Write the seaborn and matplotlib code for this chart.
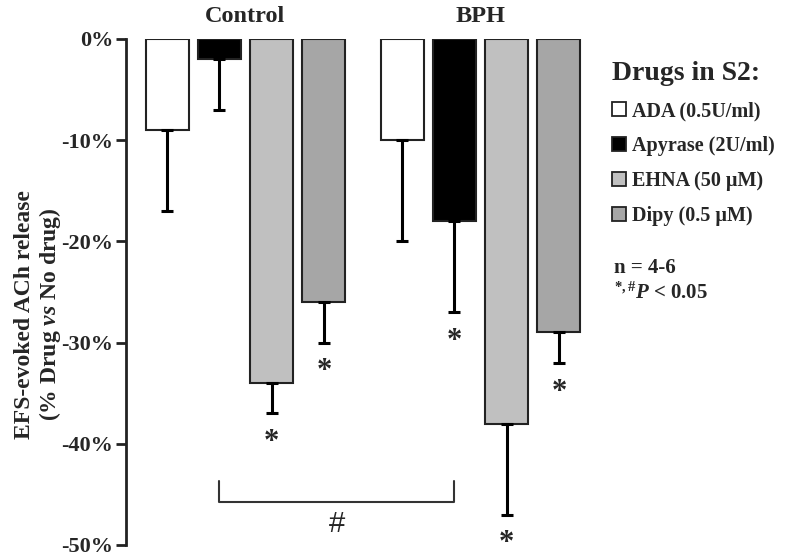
import numpy as np
import pandas as pd
import matplotlib
matplotlib.use("Agg")
import matplotlib.pyplot as plt
import seaborn as sns

# values
groups = ["Control", "BPH"]
drugs = ["ADA (0.5U/ml)", "Apyrase (2U/ml)", "EHNA (50 µM)", "Dipy (0.5 µM)"]
control_mean = [-9, -2, -34, -26]
control_err = [8, 5, 3, 4]
bph_mean = [-10, -18, -38, -29]
bph_err = [10, 9, 9, 3]
control_star = [False, False, True, True]
bph_star = [False, True, True, True]
bar_colors = ["#ffffff", "#000000", "#c0c0c0", "#a6a6a6"]
yticks = [-50, -40, -30, -20, -10, 0]
ytick_labels = ["-50%", "-40%", "-30%", "-20%", "-10%", "0%"]

sns.set_style("ticks")
plt.rcParams["font.family"] = ["Liberation Serif", "DejaVu Serif"]
plt.rcParams["font.weight"] = "bold"
plt.rcParams["mathtext.fontset"] = "custom"
plt.rcParams["mathtext.rm"] = "Liberation Serif:bold"
plt.rcParams["mathtext.bf"] = "Liberation Serif:bold"
plt.rcParams["mathtext.it"] = "Liberation Serif:italic:bold"
plt.rcParams["axes.unicode_minus"] = False

df = pd.DataFrame({
    "group": np.repeat(groups, len(drugs)),
    "drug": drugs * len(groups),
    "value": control_mean + bph_mean,
    "err": control_err + bph_err,
    "star": control_star + bph_star,
})

fig = plt.figure(figsize=(7.88, 5.56), dpi=100)
ax = fig.add_axes([126 / 788, 11 / 556, 472 / 788, 506 / 556])

sns.barplot(data=df, x="group", y="value", hue="drug", hue_order=drugs,
            palette=bar_colors, width=0.89, gap=0.18, edgecolor="#222222",
            linewidth=1.5, errorbar=None, ax=ax)

# one-sided error bars and significance stars
for drug, cont in zip(drugs, ax.containers):
    sub = df[df["drug"] == drug].set_index("group").loc[groups]
    for bar, (_, row) in zip(cont.patches, sub.iterrows()):
        xc = bar.get_x() + bar.get_width() / 2
        ax.errorbar(xc, row["value"], yerr=[[row["err"]], [0]], fmt="none",
                    ecolor="black", elinewidth=2.2, capsize=4, capthick=2.2)
        if row["star"]:
            ax.annotate("*", (xc, row["value"] - row["err"]), xytext=(0, -21),
                        textcoords="offset points", ha="center", va="center",
                        fontsize=22, fontweight="bold")

# bracket between Control and BPH apyrase bars
apy = ax.containers[1].patches
x0 = apy[0].get_x() + apy[0].get_width() / 2
x1 = apy[1].get_x() + apy[1].get_width() / 2
ax.plot([x0, x0, x1, x1], [-43.7, -45.8, -45.8, -43.7], color="#333333",
        lw=1.5, solid_joinstyle="round", clip_on=False)
ax.text((x0 + x1) / 2, -47.9, "#", ha="center", va="center", fontsize=21,
        fontweight="normal", family=["Liberation Sans", "DejaVu Sans"])

ax.set_xlim(-0.5085, 1.5)
ax.set_ylim(-50, 0)
ax.set_yticks(yticks)
ax.set_yticklabels(ytick_labels, fontsize=16, fontweight="bold")
ax.xaxis.tick_top()
ax.tick_params(axis="x", length=0, labelsize=17.5, pad=9)
ax.set_xticks(range(len(groups)))
ax.set_xticklabels(groups, fontweight="bold")
ax.tick_params(axis="y", length=7, width=2, color="#222222", pad=2)
ax.set_xlabel("")
sns.despine(ax=ax, top=True, right=True, bottom=True)
ax.spines["left"].set_linewidth(2)
ax.spines["left"].set_color("#222222")

ax.set_ylabel("EFS-evoked ACh release\n(% Drug $\\mathit{vs}$ No drug)",
              fontsize=17, fontweight="bold", linespacing=1.1)
ax.yaxis.set_label_coords(-0.133, 0.456)

handles, labels = ax.get_legend_handles_labels()
for h in handles:
    h.set_edgecolor("#222222")
    h.set_linewidth(1.3)
leg = ax.legend(handles, labels, title="Drugs in S2:", loc="upper left",
                bbox_to_anchor=(612 / 788, 1 - 61 / 556),
                bbox_transform=fig.transFigure, frameon=False,
                fontsize=14.5, title_fontsize=20, alignment="left",
                handlelength=0.7, handleheight=0.7, handletextpad=0.3,
                labelspacing=0.75, borderpad=0, borderaxespad=0)
for t in leg.get_texts():
    t.set_fontweight("bold")
leg.get_title().set_fontweight("bold")

fig.text(614 / 788, 1 - 268 / 556, "n = 4-6", fontsize=15, va="center")
fig.text(614 / 788, 1 - 293 / 556, "$^{*,\\#}\\mathit{P}$ < 0.05",
         fontsize=15, va="center")

fig.savefig("out.png", dpi=100)
